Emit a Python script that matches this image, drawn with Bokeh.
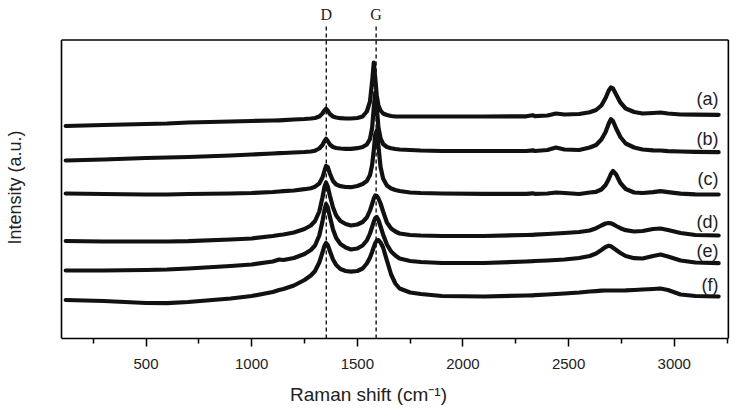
import math
from bokeh.plotting import figure
from bokeh.models import FixedTicker, Range1d
from bokeh.embed import file_html
from bokeh.resources import INLINE
from bokeh.core.properties import value

# ---------------- data ----------------
shift = [120, 300, 500, 600, 700, 900, 1000, 1100, 1130, 1150, 1200, 1250, 1280, 1300,
         1320, 1335, 1345, 1352, 1360, 1370, 1385, 1400, 1420, 1445, 1470, 1500, 1525,
         1545, 1560, 1570, 1578, 1585, 1592, 1600, 1610, 1622, 1640, 1660, 1680, 1700,
         1750, 1800, 1900, 2100, 2300, 2330, 2340, 2400, 2440, 2480, 2550,
         2600, 2630, 2655, 2675, 2690, 2700, 2710, 2725, 2745, 2770, 2810,
         2850, 2900, 2935, 2970, 3030, 3100, 3210]

curve_a = [212.5, 213.5, 214.5, 215, 216, 217, 217.5, 218, 218.2, 218.4, 219, 219.5, 220, 220.5,
           222, 225, 228.3, 229.7, 228, 224.5, 222, 221, 220.3, 220, 220, 220.5, 222,
           227, 237, 257, 276, 260, 243, 233, 228, 225, 223.5, 222.5, 222, 222,
           222, 222, 222, 222, 222.2, 223.3, 222.3, 223, 225, 224, 224.5,
           226.2, 228.5, 233, 240.5, 248, 251, 250, 244, 236, 230, 226.5,
           225, 225.5, 226, 225, 224, 223.8, 223.7]

curve_b = [178, 179, 180.5, 181, 181.5, 183, 184, 185, 185.3, 185.5, 186, 186.5, 187, 187.8,
           190, 193.5, 197.5, 199.7, 197.5, 194, 191.5, 190.5, 190, 189.7, 189.7, 190.3, 191.5,
           194, 199.5, 210.5, 231, 246, 231, 211, 200, 194.5, 191.5, 190.3, 189.5, 189,
           188.5, 188, 187.5, 187.5, 187.5, 188.2, 187.5, 188.5, 191, 189, 188.5,
           191, 193.5, 199, 206.5, 215, 219.3, 217.5, 210, 201.5, 195, 191,
           189, 188.2, 188, 187.3, 187, 186.6, 186.3]

curve_c = [145, 144.5, 144, 144, 144.5, 145, 145.5, 146.5, 147, 147.3, 148, 149.3, 150.3, 151.8,
           155, 161, 168, 172.5, 171.5, 165, 157.5, 154, 152.3, 151.5, 151.3, 152.5, 154.5,
           157.5, 163.5, 173.5, 188.5, 204, 208, 192, 171.5, 160, 153, 150, 148.5, 147.5,
           146, 145.5, 145, 144.7, 144.7, 145.2, 144.7, 145, 146, 145.5, 144.5,
           146, 146.7, 149, 153.5, 159.5, 164.5, 167.5, 164, 155.5, 149.5, 146,
           145.5, 146.3, 147.3, 146.3, 144.8, 144.2, 144]

curve_d = [97.5, 97, 97, 97, 97.3, 99, 100, 102.5, 103.5, 104, 106, 109.5, 113, 117.5,
           127, 141, 152, 156, 152, 143, 131, 123, 117.5, 114.5, 113, 114, 116.5,
           121, 128, 134.5, 140, 143, 142.5, 140, 135, 127, 116, 110, 107, 105,
           103.5, 103, 102.5, 102.5, 103.5, 103.7, 103.8, 104.5, 105, 105.5, 106.5,
           108, 110.3, 113, 115, 115.5, 115.2, 114.3, 112.5, 110.3, 108.3, 107,
           107.5, 109.5, 110, 108.5, 105.5, 103.5, 103]

curve_e = [68, 68, 68.5, 69, 70, 72.5, 74, 77, 79, 78.5, 80.5, 84.5, 88.5, 93,
           103, 117, 129, 134.5, 131, 122, 109, 100.5, 94.5, 91, 89, 90, 93,
           98, 105, 111.5, 117, 120.5, 121.5, 118.5, 112, 104, 94, 87, 83, 80,
           77.5, 76.5, 75.5, 75.5, 77, 77.3, 77.5, 78, 78.5, 79, 80.5,
           82.5, 85, 88.5, 91.5, 92.7, 92.2, 90.8, 88.5, 85.5, 82.5, 80.3,
           80, 82.5, 84, 82, 78, 76, 75.3]

curve_f = [38.5, 37.5, 35.5, 35.3, 36.5, 40, 42.5, 46.5, 48.5, 49.5, 53, 58.5, 63, 67.5,
           76, 86, 93, 95.5, 93.5, 87.5, 79, 73.5, 69.5, 67.5, 66.8, 67.5, 70,
           75, 81, 86.5, 91.5, 95.5, 98, 98.5, 96, 91, 78, 64, 55, 50,
           46, 44.5, 42.5, 42, 43, 43.2, 43.3, 44, 44.5, 45, 46,
           47, 47.4, 47.8, 48, 48, 48, 48, 48, 48, 48.1, 48.5,
           49, 49.5, 50, 48.5, 44, 42.5, 42]

curve_labels = ["(a)", "(b)", "(c)", "(d)", "(e)", "(f)"]
band_names = ["D", "G"]
band_shift = [1353, 1589]
x_major_ticks = [500, 1000, 1500, 2000, 2500, 3000]
x_minor_ticks = [250, 750, 1250, 1750, 2250, 2750, 3250]

# ---------------- layout ----------------
X0, X1 = 100, 3256          # extent of the boxed plot area
TOP = 298.5                 # top border of the box
INK = "#111111"

p = figure(width=736, height=420, output_backend="svg", toolbar_location=None,
           x_range=Range1d(-188.7, 3294.5), y_range=Range1d(0, 338),
           min_border_left=0, min_border_right=0, min_border_top=0, min_border_bottom=82,
           y_axis_location=None, outline_line_color=None)
p.grid.visible = False
p.background_fill_color = "white"
p.border_fill_color = "white"

ax = p.xaxis[0]
ax.ticker = FixedTicker(ticks=x_major_ticks, minor_ticks=x_minor_ticks)
ax.bounds = (X0, X1)
ax.axis_line_color = "black"
ax.axis_line_width = 1.6
ax.major_tick_line_color = "black"
ax.minor_tick_line_color = "black"
ax.major_tick_line_width = 1.5
ax.minor_tick_line_width = 1.5
ax.major_tick_in = 0
ax.major_tick_out = 8
ax.minor_tick_in = 0
ax.minor_tick_out = 5
ax.major_label_text_font = "Liberation Sans"
ax.major_label_text_font_size = "15px"
ax.major_label_text_color = "#222222"
ax.major_label_standoff = 12
ax.axis_label = "Raman shift (cm\u207b\u00b9)"
ax.axis_label_text_font = "Liberation Sans"
ax.axis_label_text_font_style = "normal"
ax.axis_label_text_font_size = "19px"
ax.axis_label_text_color = "#222222"
ax.axis_label_standoff = 12

# box borders (left, right, top)
p.segment(x0=[X0, X1, X0], y0=[0, 0, TOP], x1=[X0, X1, X1], y1=[TOP, TOP, TOP],
          line_color="black", line_width=1.6)

# band marker lines and labels
p.segment(x0=band_shift, y0=[0, 0], x1=band_shift, y1=[315, 315],
          line_color="black", line_width=1.3, line_dash="4 3")
p.text(x=band_shift, y=[324.5, 324.5], text=band_names,
       text_font=value("Liberation Serif"), text_font_size="16px",
       text_align="center", text_baseline="middle", text_color="#222222")

for vals in [curve_a, curve_b, curve_c, curve_d, curve_e, curve_f]:
    p.line(shift, vals, line_color=INK, line_width=4.2, line_join="round", line_cap="round")

p.text(x=[3209] * 6, y=[240, 200, 160, 116.3, 87.3, 54], text=curve_labels,
       text_font=value("Liberation Sans"), text_font_size="18px",
       text_align="right", text_baseline="middle", text_color="#222222")

p.text(x=[-122], y=[151], text=["Intensity (a.u.)"], angle=math.pi / 2,
       text_font=value("Liberation Sans"), text_font_size="18px",
       text_align="center", text_baseline="middle", text_color="#222222")

open("out.html", "w").write(file_html(p, INLINE))
